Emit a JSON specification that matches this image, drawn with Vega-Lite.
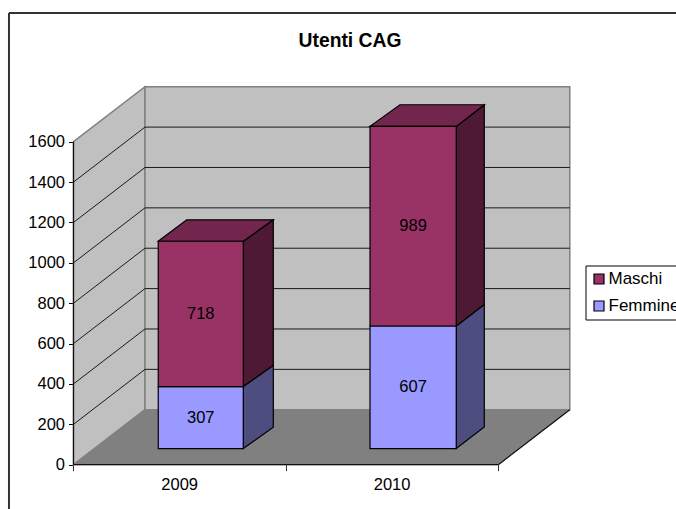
{
"$schema":"https://vega.github.io/schema/vega-lite/v6.json",
"width":676,"height":509,"padding":0,"autosize":{"type":"none"},"background":"white",
"title":{"text":"Utenti CAG","font":"Liberation Sans","fontSize":19.3,"fontWeight":"bold","color":"black","anchor":"middle","dx":12,"offset":-70,"baseline":"bottom"},
"config":{"view":{"stroke":null},"text":{"font":"Liberation Sans"}},
"datasets":{
"pareti":[
{"parte":"sinistra","x":0,"y":0,"y2":1600},{"parte":"sinistra","x":0.3366,"y":272.4,"y2":1872.4},
{"parte":"fondo","x":0.3366,"y":272.4,"y2":1872.4},{"parte":"fondo","x":2.3366,"y":272.4,"y2":1872.4}],
"griglia":[
{"x":0,"x2":0.3366,"y":200,"y2":472.4},{"x":0,"x2":0.3366,"y":400,"y2":672.4},{"x":0,"x2":0.3366,"y":600,"y2":872.4},{"x":0,"x2":0.3366,"y":800,"y2":1072.4},{"x":0,"x2":0.3366,"y":1000,"y2":1272.4},{"x":0,"x2":0.3366,"y":1200,"y2":1472.4},{"x":0,"x2":0.3366,"y":1400,"y2":1672.4},
{"x":0.3366,"x2":2.3366,"y":472.4,"y2":472.4},{"x":0.3366,"x2":2.3366,"y":672.4,"y2":672.4},{"x":0.3366,"x2":2.3366,"y":872.4,"y2":872.4},{"x":0.3366,"x2":2.3366,"y":1072.4,"y2":1072.4},{"x":0.3366,"x2":2.3366,"y":1272.4,"y2":1272.4},{"x":0.3366,"x2":2.3366,"y":1472.4,"y2":1472.4},{"x":0.3366,"x2":2.3366,"y":1672.4,"y2":1672.4}],
"pavimento":[{"x":0,"y":0,"y2":0},{"x":0.3366,"y":0,"y2":272.4},{"x":2,"y":0,"y2":272.4},{"x":2.3366,"y":272.4,"y2":272.4}],
"assi":[{"x":0,"x2":2,"y":0,"y2":0},{"x":2,"x2":2.3366,"y":0,"y2":272.4},{"x":0,"x2":0,"y":0,"y2":1600}],
"cornice":[{"x":-0.3037,"x2":-0.3037,"y":-219.4,"y2":2237.5},{"x":-0.3037,"x2":2.8366,"y":2237.5,"y2":2237.5}],
"facce":[
{"faccia":"f1lato","parte":"Femmine lato","x":0.7994,"y":80,"y2":387},{"faccia":"f1lato","parte":"Femmine lato","x":0.9407,"y":186,"y2":493},
{"faccia":"m1lato","parte":"Maschi lato","x":0.7994,"y":387,"y2":1107},{"faccia":"m1lato","parte":"Maschi lato","x":0.9407,"y":493,"y2":1213},
{"faccia":"m1top","parte":"Maschi sopra","x":0.399,"y":1107,"y2":1107},{"faccia":"m1top","parte":"Maschi sopra","x":0.533,"y":1107,"y2":1213},{"faccia":"m1top","parte":"Maschi sopra","x":0.7994,"y":1107,"y2":1213},{"faccia":"m1top","parte":"Maschi sopra","x":0.9407,"y":1213,"y2":1213},
{"faccia":"f2lato","parte":"Femmine lato","x":1.802,"y":80,"y2":687},{"faccia":"f2lato","parte":"Femmine lato","x":1.934,"y":187,"y2":794},
{"faccia":"m2lato","parte":"Maschi lato","x":1.802,"y":687,"y2":1676},{"faccia":"m2lato","parte":"Maschi lato","x":1.934,"y":794,"y2":1783},
{"faccia":"m2top","parte":"Maschi sopra","x":1.396,"y":1676,"y2":1676},{"faccia":"m2top","parte":"Maschi sopra","x":1.537,"y":1676,"y2":1783},{"faccia":"m2top","parte":"Maschi sopra","x":1.802,"y":1676,"y2":1783},{"faccia":"m2top","parte":"Maschi sopra","x":1.934,"y":1783,"y2":1783}],
"barre":[
{"anno":"2009","parte":"Femmine","valore":307,"x":0.399,"x2":0.7994,"xm":0.5992,"y":387,"y2":80,"ym":233.5},
{"anno":"2009","parte":"Maschi","valore":718,"x":0.399,"x2":0.7994,"xm":0.5992,"y":1107,"y2":387,"ym":747},
{"anno":"2010","parte":"Femmine","valore":607,"x":1.396,"x2":1.802,"xm":1.599,"y":687,"y2":80,"ym":383.5},
{"anno":"2010","parte":"Maschi","valore":989,"x":1.396,"x2":1.802,"xm":1.599,"y":1676,"y2":687,"ym":1181.5}],
"anni":[{"anno":"2009","x":0.5,"y":-100},{"anno":"2010","x":1.5,"y":-100}]
},
"encoding":{
"x":{"field":"x","type":"quantitative","title":null,"scale":{"domain":[-0.346,2.8366],"nice":false,"zero":false},
"axis":{"orient":"bottom","offset":-44.3,"values":[0,1,2],"labels":false,"domain":false,"grid":false,"tickSize":6,"tickColor":"#333333","title":null}},
"y":{"field":"y","type":"quantitative","title":null,"stack":null,"scale":{"domain":[-219.4,2302],"nice":false,"zero":false},
"axis":{"orient":"left","offset":-73.5,"values":[0,200,400,600,800,1000,1200,1400,1600],"format":"d","domain":false,"grid":false,"tickSize":5,"tickColor":"black","labelPadding":4,"labelFont":"Liberation Sans","labelFontSize":16.5,"labelColor":"black","title":null}}
},
"layer":[
{"data":{"name":"cornice"},"mark":{"type":"rule","stroke":"#333333","strokeWidth":2},"encoding":{"x2":{"field":"x2"},"y2":{"field":"y2"}}},
{"data":{"name":"pareti"},"mark":{"type":"area","fill":"#C0C0C0","stroke":"#808080","strokeWidth":1.5},"encoding":{"y2":{"field":"y2"},"detail":{"field":"parte"}}},
{"data":{"name":"griglia"},"mark":{"type":"rule","stroke":"#1a1a1a","strokeWidth":1},"encoding":{"x2":{"field":"x2"},"y2":{"field":"y2"}}},
{"data":{"name":"pavimento"},"mark":{"type":"area","fill":"#808080","stroke":"#808080","strokeWidth":1},"encoding":{"y2":{"field":"y2"}}},
{"data":{"name":"assi"},"mark":{"type":"rule","stroke":"#111111","strokeWidth":1.2},"encoding":{"x2":{"field":"x2"},"y2":{"field":"y2"}}},
{"data":{"name":"facce"},"mark":{"type":"area","stroke":"black","strokeWidth":1.2},"encoding":{"y2":{"field":"y2"},"detail":{"field":"faccia"},
"fill":{"field":"parte","type":"nominal","title":null,"scale":{"domain":["Maschi","Femmine","Maschi lato","Femmine lato","Maschi sopra"],"range":["#993366","#9999FF","#4D1933","#4D4D80","#73264D"]},"legend":{"values":["Maschi","Femmine"],"orient":"none","legendX":585.5,"legendY":265.5,"strokeColor":"black","padding":5,"symbolType":"square","symbolSize":100,"symbolStrokeColor":"black","symbolStrokeWidth":1.2,"labelFont":"Liberation Sans","labelFontSize":17,"labelColor":"black","rowPadding":9,"labelOffset":1,"labelLimit":200,"title":null}}}},
{"data":{"name":"barre"},"mark":{"type":"rect","stroke":"black","strokeWidth":1.2},"encoding":{"x2":{"field":"x2"},"y2":{"field":"y2"},
"fill":{"field":"parte","type":"nominal","title":null,"legend":{"values":["Maschi","Femmine"],"orient":"none","legendX":585.5,"legendY":265.5,"strokeColor":"black","padding":5,"symbolType":"square","symbolSize":100,"symbolStrokeColor":"black","symbolStrokeWidth":1.2,"labelFont":"Liberation Sans","labelFontSize":17,"labelColor":"black","rowPadding":9,"labelOffset":1,"labelLimit":200,"title":null}}}},
{"data":{"name":"barre"},"mark":{"type":"text","font":"Liberation Sans","fontSize":16.5,"color":"black"},"encoding":{"x":{"field":"xm","type":"quantitative"},"y":{"field":"ym","type":"quantitative"},"text":{"field":"valore","type":"quantitative"}}},
{"data":{"name":"anni"},"mark":{"type":"text","font":"Liberation Sans","fontSize":16.5,"color":"black"},"encoding":{"text":{"field":"anno","type":"nominal"}}}
]
}
